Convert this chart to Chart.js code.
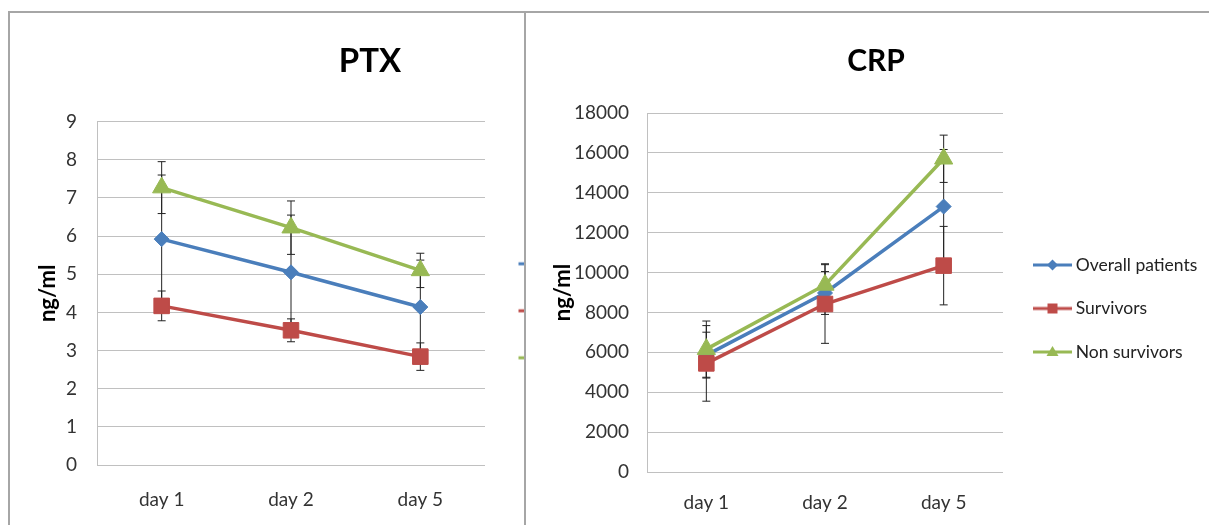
<!DOCTYPE html>
<html>
<head>
<meta charset="utf-8">
<script src="https://cdn.jsdelivr.net/npm/chart.js@4.4.1/dist/chart.umd.min.js"></script>
<style>
  body { margin: 0; background: #fff; width: 1209px; height: 525px; overflow: hidden; position: relative; }
  .frame { position: absolute; background: #a6a6a6; }
  #leftBox { position: absolute; left: 10px; top: 13px; width: 514px; height: 512px; overflow: hidden; }
  #ptxChart { display: block; }
  #crpChart { position: absolute; left: 549px; top: 13px; display: block; }
</style>
</head>
<body>
<div class="frame" style="left:8px;top:11px;width:1201px;height:2px"></div>
<div class="frame" style="left:8px;top:11px;width:2px;height:514px"></div>
<div class="frame" style="left:524px;top:11px;width:2px;height:514px"></div>
<div id="leftBox"><canvas id="ptxChart" width="720" height="512"></canvas></div>
<canvas id="crpChart" width="654" height="512"></canvas>
<script>
const days = ["day 1", "day 2", "day 5"];
const seriesNames = ["Overall patients", "Survivors", "Non survivors"];
const seriesColors = ["#4a7ebb", "#be4b48", "#98b954"];
const seriesMarkers = ["rectRot", "rect", "triangle"];
const markerSizes = [7.5, 11, 10.5];

// PTX (ng/ml), mean and error per day
const ptxOverall = [5.92, 5.05, 4.14];
const ptxSurvivors = [4.17, 3.53, 2.84];
const ptxNonSurvivors = [7.27, 6.22, 5.1];
const ptxOverallErr = [1.68, 1.5, 1.23];
const ptxSurvivorsErr = [0.39, 0.3, 0.36];
const ptxNonSurvivorsErr = [0.68, 0.7, 0.45];
const ptxTicks = [0, 1, 2, 3, 4, 5, 6, 7, 8, 9];

// CRP (ng/ml)
const crpOverall = [5860, 8975, 13310];
const crpSurvivors = [5445, 8423, 10347];
const crpNonSurvivors = [6160, 9380, 15705];
const crpOverallErr = [1150, 1075, 2860];
const crpSurvivorsErr = [1895, 1973, 1967];
const crpNonSurvivorsErr = [1410, 1060, 1185];
const crpTicks = [0, 2000, 4000, 6000, 8000, 10000, 12000, 14000, 16000, 18000];

Chart.defaults.font.family = "Lato, 'DejaVu Sans', sans-serif";
Chart.defaults.color = "#333";

// legend symbol: short line with the marker in the middle
function makeIcon(color, marker) {
  const c = document.createElement("canvas");
  c.width = 48; c.height = 20;
  const g = c.getContext("2d");
  g.strokeStyle = color; g.fillStyle = color; g.lineWidth = 3;
  g.beginPath(); g.moveTo(9, 10); g.lineTo(48, 10); g.stroke();
  const cx = 28.5, cy = 10;
  g.beginPath();
  if (marker === "rectRot") {
    g.moveTo(cx, cy - 5.5); g.lineTo(cx + 5.5, cy); g.lineTo(cx, cy + 5.5); g.lineTo(cx - 5.5, cy);
  } else if (marker === "rect") {
    g.rect(cx - 5, cy - 5, 10, 10);
  } else {
    g.moveTo(cx, cy - 6); g.lineTo(cx + 6, cy + 4); g.lineTo(cx - 6, cy + 4);
  }
  g.closePath(); g.fill();
  return c;
}
const icons = seriesColors.map((c, i) => makeIcon(c, seriesMarkers[i]));

const errorBars = {
  id: "errorBars",
  beforeDatasetsDraw(chart) {
    const ctx = chart.ctx;
    const y = chart.scales.y;
    ctx.save();
    ctx.strokeStyle = "#222";
    ctx.lineWidth = 1;
    chart.data.datasets.forEach((ds, i) => {
      chart.getDatasetMeta(i).data.forEach((pt, j) => {
        const top = y.getPixelForValue(ds.data[j] + ds.errors[j]);
        const bot = y.getPixelForValue(ds.data[j] - ds.errors[j]);
        ctx.beginPath();
        ctx.moveTo(pt.x, top); ctx.lineTo(pt.x, bot);
        ctx.moveTo(pt.x - 4, top); ctx.lineTo(pt.x + 4, top);
        ctx.moveTo(pt.x - 4, bot); ctx.lineTo(pt.x + 4, bot);
        ctx.stroke();
      });
    });
    ctx.restore();
  }
};

function makeDatasets(values, errors) {
  return values.map((data, i) => ({
    label: seriesNames[i],
    data: data,
    errors: errors[i],
    yAxisID: "y",
    borderColor: seriesColors[i],
    backgroundColor: seriesColors[i],
    borderWidth: 3.5,
    pointStyle: seriesMarkers[i],
    pointRadius: markerSizes[i],
    pointHoverRadius: markerSizes[i],
    pointBorderWidth: 1,
    order: [3, 1, 2][i]
  }));
}

function makeChart(id, s) {
  return new Chart(document.getElementById(id), {
    type: "line",
    data: { labels: days, datasets: makeDatasets(s.values, s.errors) },
    plugins: [errorBars],
    options: {
      responsive: false,
      animation: false,
      devicePixelRatio: 1,
      layout: { padding: 0 },
      plugins: {
        tooltip: { enabled: false },
        title: {
          display: true,
          text: s.title,
          color: "#000",
          font: { size: s.titleSize, weight: "bold" },
          padding: { top: s.titleTop, bottom: s.titleBottom }
        },
        legend: {
          position: "right",
          fullSize: false,
          maxWidth: s.rightSpace,
          title: { display: true, text: "", font: { size: 10 }, padding: s.legendTitlePad },
          labels: {
            usePointStyle: true,
            pointStyleWidth: 38,
            padding: s.legendPad,
            color: "#222",
            font: { size: 17.5 },
            sort: (a, b) => a.datasetIndex - b.datasetIndex,
            generateLabels: chart =>
              Chart.defaults.plugins.legend.labels.generateLabels(chart)
                .map(item => Object.assign(item, { pointStyle: icons[item.datasetIndex] }))
          }
        }
      },
      scales: {
        x: {
          offset: true,
          afterFit: sc => { sc.height = s.xHeight; },
          grid: { display: false, drawTicks: false },
          border: { display: false },
          ticks: { padding: s.xPad, font: { size: 19 }, color: "#333" }
        },
        y: {
          min: s.ticks[0],
          max: s.ticks[s.ticks.length - 1],
          afterBuildTicks: sc => { sc.ticks = s.ticks.map(v => ({ value: v })); },
          afterFit: sc => { sc.width = s.yWidth; },
          grid: { color: "#c0c0c0", lineWidth: 1, drawTicks: false },
          border: { display: true, color: "#c0c0c0" },
          ticks: { padding: s.yPad, font: { size: 19 }, color: "#333", callback: v => String(v) },
          title: {
            display: true,
            text: "ng/ml",
            color: "#000",
            font: { size: 22, weight: "bold" },
            padding: { top: s.yTitlePad, bottom: 0 }
          }
        },
        pad: {
          type: "linear",
          position: "right",
          weight: 2000,
          grid: { display: false, drawTicks: false },
          border: { display: false },
          ticks: { display: false },
          afterFit: sc => { sc.width = Math.max(0, s.rightSpace - sc.chart.legend.width); }
        }
      }
    }
  });
}

makeChart("ptxChart", {
  title: "PTX", titleSize: 33, titleTop: 29, titleBottom: 40,
  values: [ptxOverall, ptxSurvivors, ptxNonSurvivors],
  errors: [ptxOverallErr, ptxSurvivorsErr, ptxNonSurvivorsErr],
  ticks: ptxTicks,
  yWidth: 87, yPad: 20, yTitlePad: 25,
  xPad: 23.5, xHeight: 60,
  rightSpace: 245, legendPad: 29.5, legendTitlePad: 11.5
});

makeChart("crpChart", {
  title: "CRP", titleSize: 30, titleTop: 30, titleBottom: 34,
  values: [crpOverall, crpSurvivors, crpNonSurvivors],
  errors: [crpOverallErr, crpSurvivorsErr, crpNonSurvivorsErr],
  ticks: crpTicks,
  yWidth: 98, yPad: 18, yTitlePad: 1,
  xPad: 19.5, xHeight: 53,
  rightSpace: 200, legendPad: 26, legendTitlePad: 10
});
</script>
</body>
</html>
